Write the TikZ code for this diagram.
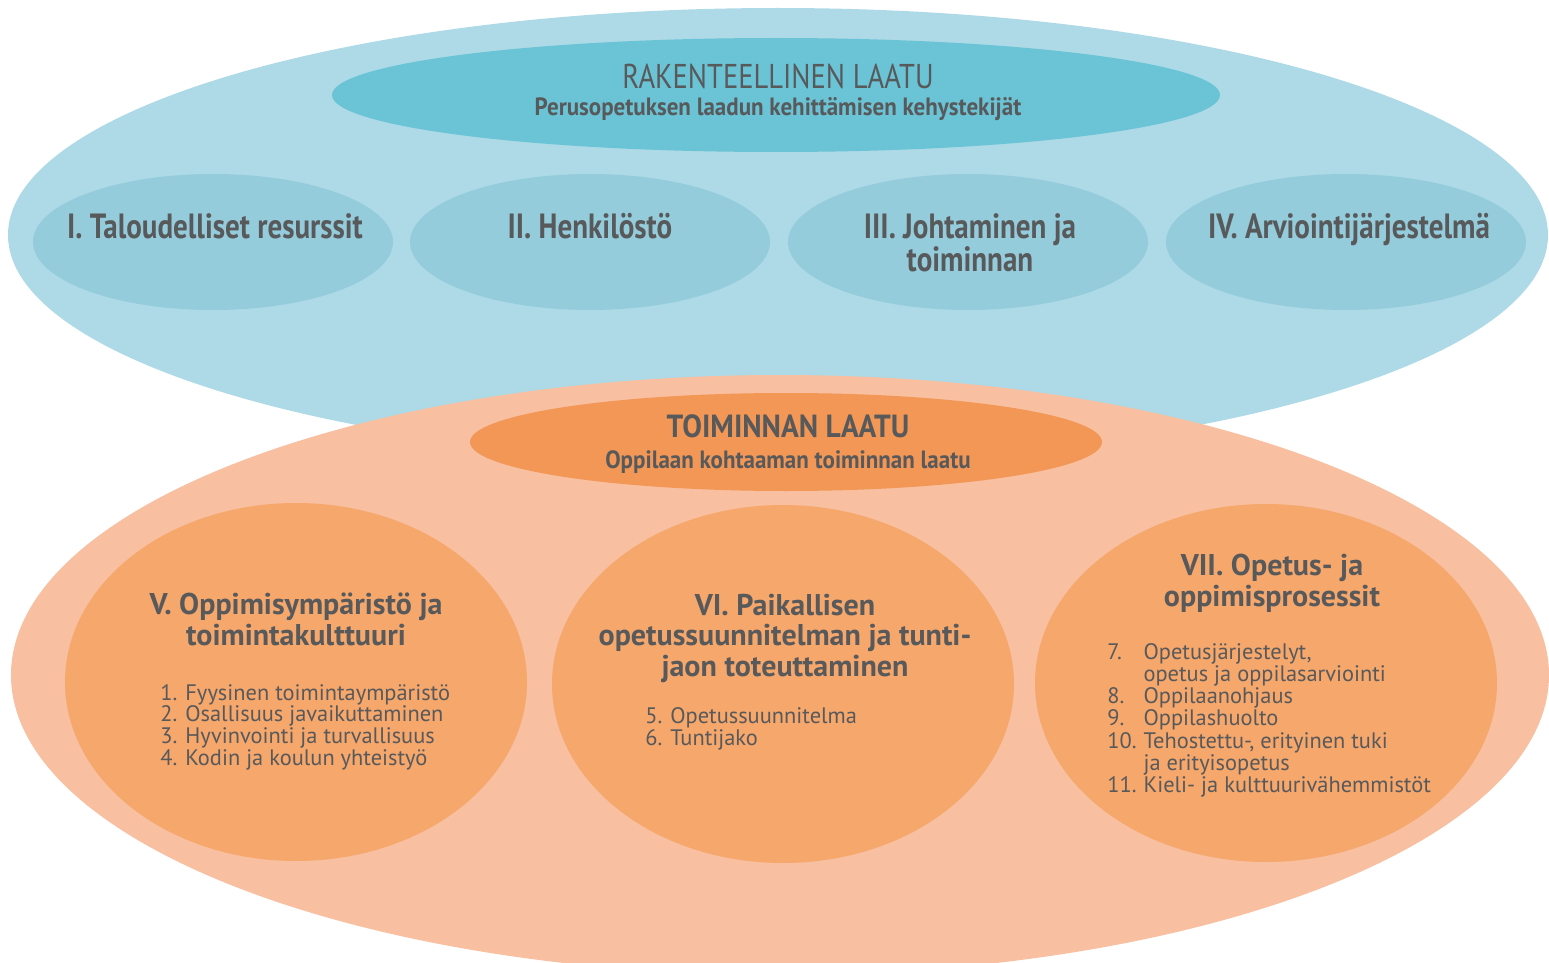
\documentclass[tikz,border=0pt]{standalone}
\usepackage{fontspec}
\setmainfont{PT Sans}
\newfontfamily\narrowfont[FakeStretch=0.83]{PT Sans}
\newfontfamily\titlefont[FakeStretch=0.92]{PT Sans}
\usetikzlibrary{shapes.geometric}

\definecolor{skyout}{HTML}{ADDAE6}
\definecolor{skyhead}{HTML}{6AC4D6}
\definecolor{skymid}{HTML}{94CCDC}
\definecolor{peachout}{HTML}{F8BFA0}
\definecolor{peachhead}{HTML}{F29755}
\definecolor{peachmid}{HTML}{F5A76C}
\definecolor{txtgrey}{HTML}{58595B}

\newcommand\tightlines{\lineskiplimit-8pt\relax}

\begin{document}
\begin{tikzpicture}[x=0.5pt, y=-0.5pt, text=txtgrey]
    \tikzstyle{oval}=[ellipse, draw=none, inner sep=0pt]
    \tikzstyle{caps}=[anchor=base, inner sep=0pt, font=\narrowfont\fontsize{17.2}{18}\selectfont]
    \tikzstyle{sub}=[anchor=base, inner sep=0pt, font=\titlefont\bfseries\fontsize{12.5}{14}\selectfont]
    \tikzstyle{factor}=[anchor=base, inner sep=0pt, align=center, font=\narrowfont\bfseries\fontsize{17.5}{16.2}\selectfont\tightlines]
    \tikzstyle{area}=[anchor=base, inner sep=0pt, align=center, font=\bfseries\fontsize{15}{15.1}\selectfont\tightlines]
    \tikzstyle{items}=[anchor=base west, inner sep=0pt, align=left, font=\fontsize{11.2}{10.8}\selectfont\tightlines]

    \useasboundingbox (0,0) rectangle (1549,963);
    \clip (0,0) rectangle (1549,963);

    % rakenteellinen laatu
    \node[oval, fill=skyout, minimum width=770pt, minimum height=227pt] (struct) at (778,235) {};
    \node[oval, fill=skyhead, minimum width=444pt, minimum height=57pt] (structhead) at (776,95) {};
    \node[oval, fill=skymid, minimum width=180pt, minimum height=68pt] (res) at (213,242) {};
    \node[oval, fill=skymid, minimum width=180pt, minimum height=68pt] (staff) at (590,242) {};
    \node[oval, fill=skymid, minimum width=180pt, minimum height=68pt] (lead) at (968,242) {};
    \node[oval, fill=skymid, minimum width=180pt, minimum height=68pt] (eval) at (1346,242) {};

    \node[caps] at (778,89) {RAKENTEELLINEN LAATU};
    \node[sub] at (778,116) {Perusopetuksen laadun kehittämisen kehystekijät};
    \node[factor] at (215,239) {I. Taloudelliset resurssit};
    \node[factor] at (590,239) {II. Henkilöstö};
    \node[factor] at (970,271) {III. Johtaminen ja\\toiminnan};
    \node[factor] at (1349,239) {IV. Arviointijärjestelmä};

    % toiminnan laatu
    \node[oval, fill=peachout, minimum width=769pt, minimum height=300pt] (oper) at (780,675) {};
    \node[oval, fill=peachhead, minimum width=316pt, minimum height=49pt] (operhead) at (786,442) {};
    \node[oval, fill=peachmid, minimum width=231pt, minimum height=179pt] (env) at (296,682) {};
    \node[oval, fill=peachmid, minimum width=231pt, minimum height=179pt] (plan) at (783,684) {};
    \node[oval, fill=peachmid, minimum width=231pt, minimum height=179pt] (proc) at (1266,683) {};

    \node[caps, font=\titlefont\bfseries\fontsize{16}{18}\selectfont] at (788,437) {TOIMINNAN LAATU};
    \node[sub] at (788,468) {Oppilaan kohtaaman toiminnan laatu};

    \node[area] at (296,645) {V. Oppimisympäristö ja\\toimintakulttuuri};
    \node[items] at (160,765) {1. Fyysinen toimintaympäristö\\2. Osallisuus javaikuttaminen\\3. Hyvinvointi ja turvallisuus\\4. Kodin ja koulun yhteistyö};

    \node[area] at (785,676) {VI. Paikallisen\\opetussuunnitelman ja tunti-\\jaon toteuttaminen};
    \node[items] at (645,745) {5. Opetussuunnitelma\\6. Tuntijako};

    \node[area] at (1272,606) {VII. Opetus- ja\\oppimisprosessit};
    \node[items] at (1107,659) {%
        \def\arraystretch{0.985}%
        \begin{tabular}[t]{@{}l@{\hspace{3.5pt}}l@{}}
            7. & Opetusjärjestelyt,\\
               & opetus ja oppilasarviointi\\
            8. & Oppilaanohjaus\\
            9. & Oppilashuolto\\
            10. & Tehostettu-, erityinen tuki\\
                & ja erityisopetus\\
            11. & Kieli- ja kulttuurivähemmistöt
        \end{tabular}};
\end{tikzpicture}
\end{document}
